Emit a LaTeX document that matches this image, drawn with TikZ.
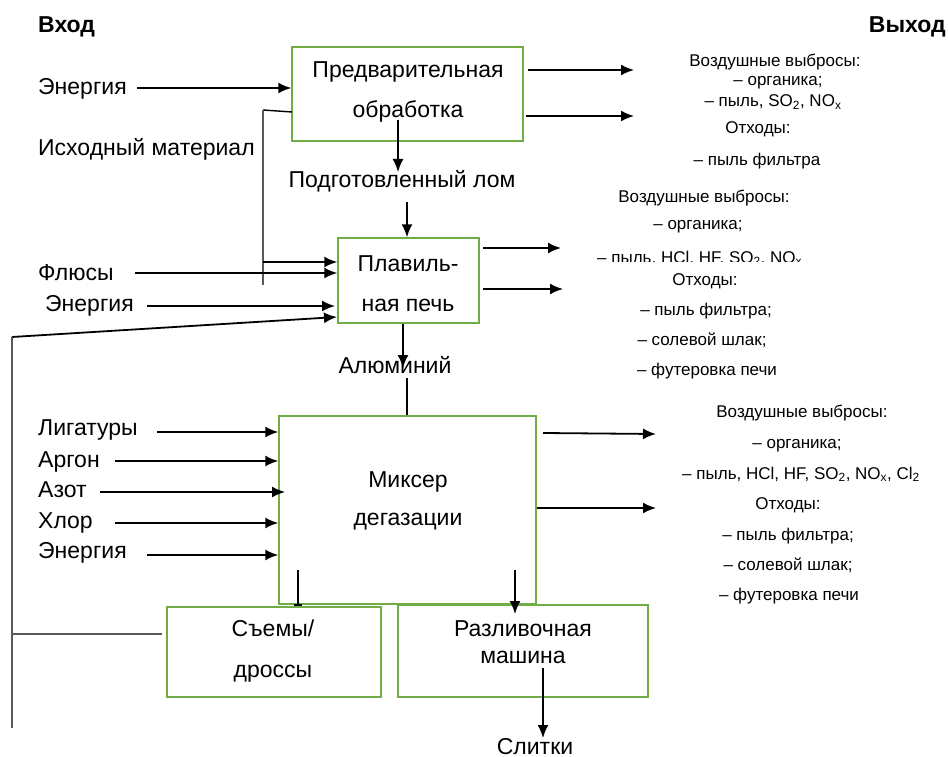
\documentclass[tikz,border=0pt]{standalone}
\usepackage{fontspec}
\setmainfont{Liberation Sans}
\usetikzlibrary{arrows.meta}
\definecolor{boxgreen}{RGB}{112,173,71}
\begin{document}
\begin{tikzpicture}[x=1pt,y=-1pt,
  box/.style={draw=boxgreen, line width=1.5pt, inner sep=0pt, fill=none},
  lbl/.style={font=\fontsize{23}{27}\selectfont, inner sep=0pt},
  boxtext/.style={align=center, inner sep=0pt},
  sm/.style={font=\fontsize{17}{20}\selectfont, inner sep=0pt, anchor=base},
  arr/.style={line width=1.8pt, -{Latex[length=13pt,width=11pt]}},
  bararr/.style={line width=1.8pt, -{Bar[width=8pt,line width=1.8pt]}},
  thinl/.style={line width=1.1pt, draw=black!65},
  plain/.style={line width=1.8pt},
]
\useasboundingbox (0,0) rectangle (948,757);

% headings
\node[font=\fontsize{23}{27}\selectfont\bfseries, inner sep=0pt, anchor=base west] (vhod) at (38,33) {Вход};
\node[font=\fontsize{23}{27}\selectfont\bfseries, inner sep=0pt, anchor=base east] (vyhod) at (946,33) {Выход};

% boxes
\node[box, minimum width=231pt, minimum height=94pt] (pre) at (407.5,94) {};
\node[box, minimum width=141pt, minimum height=85pt] (melt) at (408.5,280.5) {};
\node[box, minimum width=257pt, minimum height=188pt] (mix) at (407.5,510) {};
\node[box, minimum width=214pt, minimum height=90pt] (dross) at (274,652) {};
\node[box, minimum width=250pt, minimum height=92pt] (cast) at (523,651) {};

% box texts
\node[boxtext, font=\fontsize{23}{40}\selectfont] (pretxt) at (408,92) {Предварительная\\обработка};
\node[boxtext, font=\fontsize{23}{40}\selectfont] (melttxt) at (408,284) {Плавиль-\\ная печь};
\node[boxtext, font=\fontsize{23}{38}\selectfont] (mixtxt) at (408,501) {Миксер\\дегазации};
\node[boxtext, font=\fontsize{23}{41}\selectfont] (drosstxt) at (273,651) {Съемы/\\дроссы};
\node[boxtext, font=\fontsize{23}{27}\selectfont] (casttxt) at (523,642) {Разливочная\\машина};

% left labels
\node[lbl, anchor=base west] (en1) at (38,95) {Энергия};
\node[lbl, anchor=base west] (ish) at (38,156) {Исходный материал};
\node[lbl, anchor=base] (podg) at (402,187) {Подготовленный лом};
\node[lbl, anchor=base west] (flux) at (38,280) {Флюсы};
\node[lbl, anchor=base west] (en2) at (45,311) {Энергия};
\node[lbl, anchor=base] (alum) at (395,373) {Алюминий};
\node[lbl, anchor=base west] (lig) at (38,435) {Лигатуры};
\node[lbl, anchor=base west] (arg) at (38,467) {Аргон};
\node[lbl, anchor=base west] (azot) at (38,497) {Азот};
\node[lbl, anchor=base west] (hlor) at (38,528) {Хлор};
\node[lbl, anchor=base west] (en3) at (38,558) {Энергия};
\node[lbl, anchor=base] (slit) at (535,754) {Слитки};

% output block 1
\node[sm] (o1a) at (775,67) {Воздушные выбросы:};
\node[sm] (o1b) at (778,86) {– органика;};
\node[sm] (o1c) at (773,107) {– пыль, SO\textsubscript{2}, NO\textsubscript{x}};
\node[sm] (o1d) at (758,134) {Отходы:};
\node[sm] (o1e) at (757,165) {– пыль фильтра};

% output block 2
\node[sm] (o2a) at (704,202) {Воздушные выбросы:};
\node[sm] (o2b) at (698,229) {– органика;};
\begin{scope}
  \clip (560,240) rectangle (880,261);
  \node[sm, anchor=base west] (o2c) at (597,263) {– пыль, HCl, HF, SO\textsubscript{2}, NO\textsubscript{x}};
\end{scope}
\node[sm] (o2d) at (705,285) {Отходы:};
\node[sm] (o2e) at (706,315) {– пыль фильтра;};
\node[sm] (o2f) at (702,345) {– солевой шлак;};
\node[sm] (o2g) at (707,375) {– футеровка печи};

% output block 3
\node[sm] (o3a) at (802,417) {Воздушные выбросы:};
\node[sm] (o3b) at (797,448) {– органика;};
\node[sm] (o3c) at (801,479) {– пыль, HCl, HF, SO\textsubscript{2}, NO\textsubscript{x}, Cl\textsubscript{2}};
\node[sm] (o3d) at (788,509) {Отходы:};
\node[sm] (o3e) at (788,540) {– пыль фильтра;};
\node[sm] (o3f) at (788,570) {– солевой шлак;};
\node[sm] (o3g) at (789,600) {– футеровка печи};

% coordinates
\coordinate (e1s) at (137,88);
\coordinate (j1) at (263,110);
\coordinate (j1e) at (292,112);
\coordinate (j2) at (263,285);
\coordinate (j3) at (263,262);
\coordinate (fls) at (135,273);
\coordinate (e2s) at (147,306);
\coordinate (e2e) at (335,306);
\coordinate (L1) at (12,337);
\coordinate (L1e) at (337,317);
\coordinate (L2) at (12,728);
\coordinate (L3) at (12,634);
\coordinate (L3e) at (162,634);
\coordinate (pd1) at (398,120);
\coordinate (pd1e) at (398,172);
\coordinate (pd2) at (407,202);
\coordinate (po1s) at (528,70);
\coordinate (po1e) at (634,70);
\coordinate (po2s) at (526,116);
\coordinate (po2e) at (634,116);
\coordinate (mo1s) at (483,248);
\coordinate (mo1e) at (561,248);
\coordinate (mo2s) at (483,289);
\coordinate (mo2e) at (563,289);
\coordinate (md1e) at (403,368);
\coordinate (md2) at (407,378);
\coordinate (ligs) at (157,432);
\coordinate (args) at (115,461);
\coordinate (azs) at (100,492);
\coordinate (aze) at (285,492);
\coordinate (hls) at (115,523);
\coordinate (e3s) at (147,555);
\coordinate (xo1s) at (543,433);
\coordinate (xo1e) at (656,434);
\coordinate (xo2e) at (656,508);
\coordinate (bs) at (298,570);
\coordinate (cs) at (515,570);
\coordinate (ce) at (515,614);
\coordinate (cos) at (543,668);
\coordinate (coe) at (543,738);

% connectors: top box
\draw[arr] (e1s) -- (e1s -| pre.west);
\draw[plain, line width=1.4pt] (j1) -- (j1e);
\draw[thinl] (j1) -- (j2);
\draw[arr] (pd1) -- (pd1e);
\draw[arr] (pd2) -- (pd2 |- melt.north);
\draw[arr] (po1s) -- (po1e);
\draw[arr] (po2s) -- (po2e);

% melting furnace
\draw[arr] (j3) -- (j3 -| melt.west);
\draw[arr] (fls) -- (fls -| melt.west);
\draw[arr] (e2s) -- (e2e);
\draw[arr] (L1) -- (L1e);
\draw[thinl] (L1) -- (L2);
\draw[thinl] (L3) -- (L3e);
\draw[arr] (mo1s) -- (mo1e);
\draw[arr] (mo2s) -- (mo2e);
\draw[arr] (md1e |- melt.south) -- (md1e);
\draw[plain] (md2) -- (md2 |- mix.north);

% mixer
\draw[arr] (ligs) -- (ligs -| mix.west);
\draw[arr] (args) -- (args -| mix.west);
\draw[arr] (azs) -- (aze);
\draw[arr] (hls) -- (hls -| mix.west);
\draw[arr] (e3s) -- (e3s -| mix.west);
\draw[arr] (xo1s) -- (xo1e);
\draw[arr] (xo2e -| mix.east) -- (xo2e);
\draw[bararr] (bs) -- (bs |- dross.north);
\draw[arr] (cs) -- (ce);
\draw[arr] (cos) -- (coe);
\end{tikzpicture}
\end{document}
